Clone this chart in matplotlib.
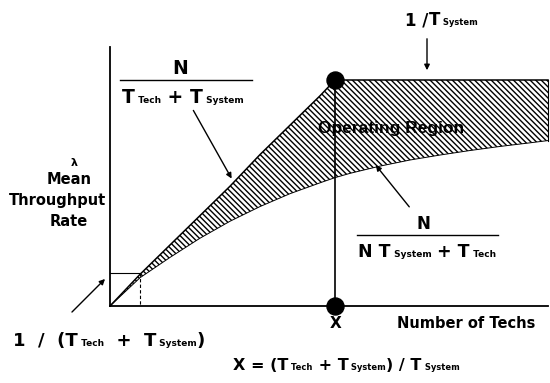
import matplotlib
matplotlib.use("Agg")
import matplotlib.pyplot as plt
from matplotlib.offsetbox import TextArea, HPacker, AnnotationBbox

plt.rcParams['font.family'] = ['DejaVu Sans']
plt.rcParams['hatch.linewidth'] = 1.0

# values read from the schematic (N = number of techs, rate in units of 1/T_system)
n_techs = [0, 1, 2, 3, 4, 5, 6, 7, 7.5, 8, 9, 10, 11, 12, 13, 14, 14.6]
upper_rate = [0, 0.14, 0.27, 0.40, 0.53, 0.67, 0.80, 0.93, 1.0, 1.0, 1.0, 1.0, 1.0, 1.0, 1.0, 1.0, 1.0]
lower_rate = [0, 0.125, 0.215, 0.300, 0.375, 0.440, 0.497, 0.545, 0.568, 0.587, 0.619, 0.646,
              0.668, 0.688, 0.706, 0.722, 0.732]
x_knee = 7.5          # X = (T_tech + T_system) / T_system
rate_knee = 1.0       # 1 / T_system
n_box = 1             # single tech
rate_box = 0.146      # 1 / (T_tech + T_system)

W, H = 550, 383
fig = plt.figure(figsize=(5.5, 3.83), dpi=100)
ax = fig.add_axes([0, 0, 1, 1])
sx, sy = 30.0, 226.0
ax.set_xlim(-110 / sx, (W - 110) / sx)
ax.set_ylim(-(H - 306) / sy, 306 / sy)
ax.axis('off')

def P(px, py):
    return ((px - 110) / sx, (306 - py) / sy)

# axes lines
ax.plot([0, 0], [0, P(0, 47)[1]], color='black', lw=1.3)
ax.plot([0, P(548, 0)[0]], [0, 0], color='black', lw=1.3)

# operating region
ax.fill_between(n_techs, lower_rate, upper_rate, facecolor='white', edgecolor='black',
                hatch='\\' * 6, linewidth=0)
ax.plot(n_techs, upper_rate, color='black', lw=1.1)
ax.plot(n_techs, lower_rate, color='black', lw=0.7)
ax.plot([n_techs[-1], n_techs[-1]], [lower_rate[-1], upper_rate[-1]], color='black', lw=0.8)

# knee line and dots
ax.plot([x_knee, x_knee], [0, rate_knee], color='black', lw=1.2)
ax.scatter([x_knee, x_knee], [0, rate_knee], s=150, color='black', zorder=5)

# small box at N = 1
ax.plot([0, n_box], [rate_box, rate_box], color='black', lw=0.8)
ax.plot([n_box, n_box], [rate_box, 0], color='black', lw=0.8, ls=(0, (3, 2)))

bold = dict(fontweight='bold', color='black')
arrow = dict(arrowstyle='-|>', color='black', lw=1.0, mutation_scale=8)


def formula(pos, pieces, big, small, align=(0, 0.5)):
    kids = []
    for s, sub in pieces:
        kids.append(TextArea(s, textprops=dict(fontsize=small if sub else big,
                                               fontweight='bold', color='black')))
    box = HPacker(children=kids, align='baseline', pad=0, sep=0)
    ab = AnnotationBbox(box, P(*pos), xycoords='data', box_alignment=align,
                        frameon=False, pad=0)
    ax.add_artist(ab)


# top-left fraction
ax.plot(*zip(P(120, 80), P(252, 80)), color='black', lw=1.0)
ax.text(*P(180, 78), 'N', ha='center', va='bottom', fontsize=13.5, **bold)
formula((122, 97), [('T', False), (' Tech', True), (' + ', False), ('T', False), (' System', True)], 13.5, 6.5)
ax.annotate('', xy=P(233, 181), xytext=P(192, 108), arrowprops=arrow)

# y label
ax.text(*P(74, 163), 'λ', ha='center', va='center', fontsize=8, **bold)
ax.text(*P(69, 179), 'Mean', ha='center', va='center', fontsize=10.5, **bold)
ax.text(*P(58, 200), 'Throughput', ha='center', va='center', fontsize=10.5, **bold)
ax.text(*P(69, 221), 'Rate', ha='center', va='center', fontsize=10.5, **bold)

# 1/T_system
formula((405, 20), [('1 /', False), ('T', False), (' System', True)], 12, 6)
ax.annotate('', xy=P(427, 73), xytext=P(427, 36), arrowprops=arrow)

ax.text(*P(391, 128), 'Operating Region', ha='center', va='center', fontsize=12.5,
        fontweight='bold', family='Liberation Sans', color='black')

# lower curve label
ax.annotate('', xy=P(374, 163), xytext=P(411, 209), arrowprops=arrow)
ax.plot(*zip(P(357, 235), P(498, 235)), color='black', lw=1.0)
ax.text(*P(423, 233), 'N', ha='center', va='bottom', fontsize=12, **bold)
formula((358, 252), [('N T', False), (' System', True), (' + T', False), (' Tech', True)], 12.5, 6.5)

# x labels
ax.text(*P(336, 324), 'X', ha='center', va='center', fontsize=11, **bold)
ax.text(*P(466, 324), 'Number of Techs', ha='center', va='center', fontsize=10.5, **bold)

# 1/(T_tech + T_system)
ax.annotate('', xy=P(107, 277), xytext=P(70, 314), arrowprops=arrow)
formula((13, 341), [('1  /  (T', False), (' Tech', True), ('  +  T', False), (' System', True), (')', False)], 13, 6.5)

formula((233, 366), [('X = (T', False), (' Tech', True), (' + T', False), (' System', True),
                     (') / T', False), (' System', True)], 11.5, 6)

fig.savefig('out.png', dpi=100, facecolor='white')
